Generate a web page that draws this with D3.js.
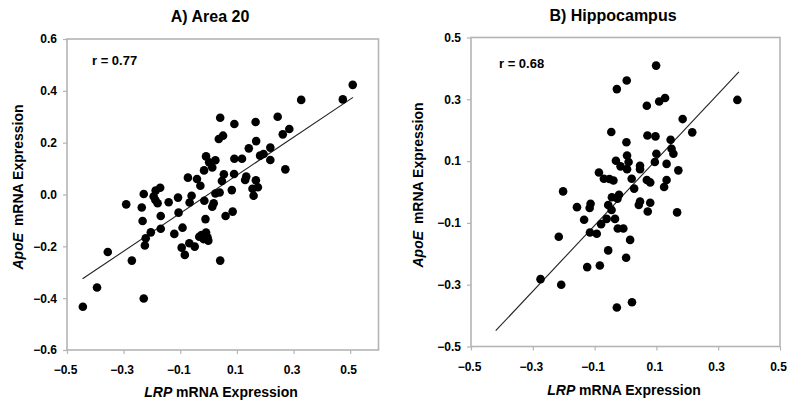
<!DOCTYPE html>
<html>
<head>
<meta charset="utf-8">
<script src="https://cdn.jsdelivr.net/npm/d3@7"></script>
<style>
  body { margin: 0; background: #fff; }
  text { font-family: "Liberation Sans", Arial, sans-serif; }
</style>
</head>
<body>
<div id="chart"></div>
<script>
var svgWidth = 793;
var svgHeight = 409;

// A) Area 20
var areaX = [0.509, 0.474, 0.327, 0.244, 0.285, 0.262, 0.271, 0.041, 0.091, 0.166,
  0.051, 0.036, 0.168, 0.142, 0.218, 0.194, 0.182, 0.218, 0.118, 0.091,
  -0.009, 0.024, 0.002, 0.013, -0.016, 0.054, 0.090, 0.133, 0.129, 0.167,
  0.047, -0.073, -0.041, -0.029, 0.082, 0.174, 0.155, 0.039, 0.024, 0.159,
  -0.015, 0.018, 0.013, 0.085, 0.060, -0.011, -0.108, -0.060, -0.067, -0.141,
  -0.106, -0.171, -0.187, -0.194, -0.188, -0.180, -0.229, -0.291, -0.236, -0.233,
  -0.169, -0.169, -0.204, -0.222, -0.225, -0.121, -0.092, -0.095, -0.084, -0.068,
  -0.049, -0.033, -0.025, -0.009, -0.004, -0.001, -0.018, 0.041, -0.271, -0.356,
  -0.394, -0.229, -0.444];
var areaY = [0.423, 0.367, 0.365, 0.300, 0.253, 0.232, 0.097, 0.296, 0.272, 0.280,
  0.227, 0.214, 0.206, 0.178, 0.181, 0.156, 0.150, 0.133, 0.138, 0.138,
  0.147, 0.132, 0.124, 0.104, 0.093, 0.078, 0.079, 0.069, 0.056, 0.055,
  0.052, 0.065, 0.060, 0.034, 0.017, 0.028, 0.022, 0.008, 0.004, -0.005,
  -0.024, -0.034, -0.047, -0.066, -0.083, -0.095, -0.012, -0.005, -0.031, -0.030,
  -0.070, 0.026, 0.015, -0.008, -0.021, -0.034, 0.002, -0.038, -0.050, -0.102,
  -0.083, -0.132, -0.146, -0.169, -0.197, -0.152, -0.128, -0.205, -0.233, -0.188,
  -0.201, -0.163, -0.156, -0.147, -0.165, -0.178, -0.172, -0.255, -0.255, -0.222,
  -0.359, -0.401, -0.433];

// B) Hippocampus
var hippoX = [0.099, 0.004, -0.028, 0.362, 0.128, 0.109, 0.069, 0.185, 0.216, -0.046,
  0.071, 0.097, 0.146, 0.003, 0.149, 0.155, 0.100, 0.005, 0.010, -0.031,
  -0.016, 0.047, 0.047, 0.095, 0.133, 0.005, 0.171, -0.086, -0.070, -0.052,
  -0.039, 0.020, 0.069, 0.080, 0.133, 0.125, 0.028, -0.202, -0.044, -0.021,
  -0.026, 0.047, 0.080, 0.043, -0.157, -0.113, -0.116, -0.056, -0.045, 0.072,
  0.167, -0.134, -0.061, -0.034, -0.079, -0.115, -0.093, -0.025, -0.007, -0.216,
  0.015, -0.056, 0.002, -0.124, -0.083, -0.275, -0.208, -0.028, 0.021];
var hippoY = [0.409, 0.361, 0.333, 0.298, 0.304, 0.293, 0.279, 0.236, 0.193, 0.194,
  0.183, 0.180, 0.169, 0.161, 0.140, 0.124, 0.124, 0.118, 0.097, 0.101,
  0.083, 0.085, 0.074, 0.097, 0.091, 0.074, 0.070, 0.063, 0.043, 0.042,
  0.037, 0.043, 0.039, 0.031, 0.039, 0.016, 0.011, 0.002, -0.017, -0.009,
  -0.022, -0.031, -0.035, -0.042, -0.049, -0.038, -0.052, -0.042, -0.058, -0.063,
  -0.066, -0.090, -0.087, -0.087, -0.104, -0.131, -0.135, -0.118, -0.118, -0.145,
  -0.155, -0.189, -0.213, -0.243, -0.238, -0.282, -0.300, -0.374, -0.357];

// regression lines: [slope, intercept], x extent
var areaFit = [0.733, 0.001];
var areaFitX = [-0.445, 0.51];
var hippoFit = [1.064, -0.002];
var hippoFitX = [-0.42, 0.367];

var areaXTicks = [-0.5, -0.3, -0.1, 0.1, 0.3, 0.5];
var areaYTicks = [-0.6, -0.4, -0.2, 0.0, 0.2, 0.4, 0.6];
var hippoXTicks = [-0.5, -0.3, -0.1, 0.1, 0.3, 0.5];
var hippoYTicks = [-0.5, -0.3, -0.1, 0.1, 0.3, 0.5];

var svg = d3.select("#chart")
  .append("svg")
  .attr("width", svgWidth)
  .attr("height", svgHeight);

function drawPanel(p) {
  var xScale = d3.scaleLinear().domain(p.xDomain).range([p.left, p.right]);
  var yScale = d3.scaleLinear().domain(p.yDomain).range([p.bottom, p.top]);

  var g = svg.append("g");

  // left axis
  var yAxis = g.append("g")
    .attr("transform", `translate(${p.left}, 0)`)
    .call(d3.axisLeft(yScale).tickValues(p.yTicks).tickSize(4).tickPadding(6)
      .tickFormat(d3.format(".1f")));
  // bottom axis
  var xAxis = g.append("g")
    .attr("transform", `translate(0, ${p.bottom})`)
    .call(d3.axisBottom(xScale).tickValues(p.xTicks).tickSize(4).tickPadding(p.xPad)
      .tickFormat(d3.format(".1f")));

  [xAxis, yAxis].forEach(function(ax) {
    ax.select(".domain").remove();
    ax.selectAll(".tick line").attr("stroke", "#b4b4b4").attr("stroke-width", 1.2);
    ax.selectAll(".tick text")
      .attr("fill", "#000")
      .style("font-size", "12px")
      .style("font-weight", "bold")
      .style("font-family", "'Liberation Sans', Arial, sans-serif");
  });
  xAxis.selectAll(".tick text").attr("dx", "-2");

  // plot frame
  g.append("rect")
    .attr("x", p.left)
    .attr("y", p.top)
    .attr("width", p.right - p.left)
    .attr("height", p.bottom - p.top)
    .attr("fill", "none")
    .attr("stroke", "#b4b4b4")
    .attr("stroke-width", 1.6);

  // regression line
  g.append("line")
    .attr("x1", xScale(p.fitX[0]))
    .attr("y1", yScale(p.fit[1] + p.fit[0] * p.fitX[0]))
    .attr("x2", xScale(p.fitX[1]))
    .attr("y2", yScale(p.fit[1] + p.fit[0] * p.fitX[1]))
    .attr("stroke", "#222")
    .attr("stroke-width", 1.1);

  // points
  g.selectAll("circle")
    .data(p.xs)
    .enter()
    .append("circle")
    .attr("cx", d => xScale(d))
    .attr("cy", (d, i) => yScale(p.ys[i]))
    .attr("r", 4.3)
    .attr("fill", "#000");

  // title
  g.append("text")
    .attr("x", p.titleX)
    .attr("y", p.titleY)
    .attr("text-anchor", "middle")
    .style("font-size", "16px")
    .style("font-weight", "bold")
    .text(p.title);

  // r value
  g.append("text")
    .attr("x", p.rX)
    .attr("y", p.rY)
    .style("font-size", "13px")
    .style("font-weight", "bold")
    .text(p.r);

  // x axis title
  var xt = g.append("text")
    .attr("x", p.xTitleX)
    .attr("y", p.xTitleY)
    .attr("text-anchor", "middle")
    .style("font-size", "14px")
    .style("font-weight", "bold");
  xt.append("tspan").style("font-style", "italic").text("LRP");
  xt.append("tspan").text(" mRNA Expression");

  // y axis title
  var yt = g.append("text")
    .attr("transform", `translate(${p.yTitleX}, ${p.yTitleY}) rotate(-90)`)
    .attr("text-anchor", "middle")
    .style("font-size", "14px")
    .style("font-weight", "bold");
  yt.append("tspan").style("font-style", "italic").text("ApoE");
  yt.append("tspan").attr("dx", "3").text(" mRNA Expression");
}

drawPanel({
  xs: areaX, ys: areaY, fit: areaFit, fitX: areaFitX,
  xDomain: [-0.5, 0.6], yDomain: [-0.6, 0.6],
  xTicks: areaXTicks, yTicks: areaYTicks,
  left: 67, right: 378.5, top: 39, bottom: 350, xPad: 11,
  title: "A) Area 20", titleX: 210, titleY: 22,
  r: "r = 0.77", rX: 92, rY: 65,
  xTitleX: 221, xTitleY: 397,
  yTitleX: 23, yTitleY: 187
});

drawPanel({
  xs: hippoX, ys: hippoY, fit: hippoFit, fitX: hippoFitX,
  xDomain: [-0.5, 0.5], yDomain: [-0.5, 0.5],
  xTicks: hippoXTicks, yTicks: hippoYTicks,
  left: 471, right: 780, top: 37.5, bottom: 346.5, xPad: 11.5,
  title: "B) Hippocampus", titleX: 613, titleY: 21,
  r: "r = 0.68", rX: 499, rY: 68,
  xTitleX: 624, xTitleY: 395,
  yTitleX: 423, yTitleY: 185
});
</script>
</body>
</html>
